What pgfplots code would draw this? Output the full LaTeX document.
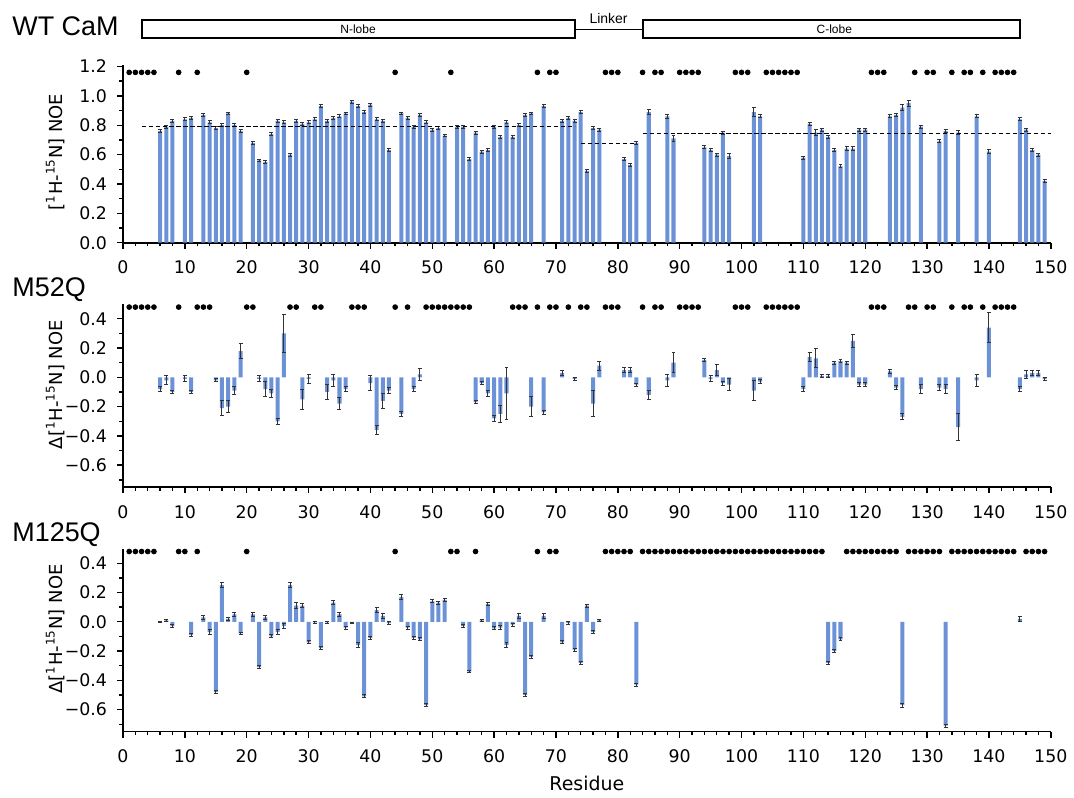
\documentclass[border=0pt]{standalone}
\usepackage{fontspec}
\setmainfont{DejaVu Sans}
\newfontfamily\arial{Liberation Sans}
\usepackage{pgfplots}
\usepackage{pgfplotstable}
\pgfplotsset{compat=1.18}
\definecolor{barblue}{RGB}{107,146,214}

% residue, value, error
\pgfplotstableread{
x y e
6 0.76 0.01
7 0.79 0.01
8 0.83 0.01
10 0.84 0.01
11 0.85 0.01
13 0.87 0.01
14 0.82 0.01
15 0.78 0.01
16 0.80 0.01
17 0.88 0.01
18 0.80 0.01
19 0.76 0.01
21 0.68 0.01
22 0.56 0.01
23 0.55 0.01
24 0.74 0.01
25 0.83 0.01
26 0.82 0.01
27 0.60 0.01
28 0.83 0.01
29 0.81 0.01
30 0.82 0.01
31 0.84 0.01
32 0.93 0.01
33 0.83 0.01
34 0.85 0.01
35 0.86 0.01
36 0.88 0.01
37 0.96 0.01
38 0.93 0.01
39 0.89 0.01
40 0.94 0.01
41 0.84 0.01
42 0.83 0.01
43 0.63 0.01
45 0.88 0.01
46 0.85 0.01
47 0.79 0.01
48 0.87 0.01
49 0.82 0.01
50 0.77 0.01
51 0.78 0.01
52 0.73 0.01
54 0.79 0.01
55 0.79 0.01
56 0.57 0.01
57 0.75 0.01
58 0.62 0.01
59 0.63 0.01
60 0.79 0.01
61 0.72 0.01
62 0.82 0.01
63 0.72 0.01
64 0.80 0.01
65 0.87 0.01
66 0.88 0.01
68 0.93 0.01
71 0.83 0.01
72 0.85 0.01
73 0.83 0.01
74 0.89 0.01
75 0.49 0.01
76 0.78 0.01
77 0.77 0.01
81 0.57 0.01
82 0.53 0.01
83 0.68 0.01
85 0.89 0.02
88 0.86 0.015
89 0.71 0.02
94 0.65 0.01
95 0.63 0.01
96 0.60 0.01
97 0.75 0.01
98 0.59 0.015
102 0.89 0.03
103 0.86 0.01
110 0.58 0.01
111 0.81 0.01
112 0.75 0.02
113 0.77 0.01
114 0.72 0.01
115 0.63 0.01
116 0.52 0.01
117 0.64 0.015
118 0.64 0.015
119 0.77 0.01
120 0.77 0.01
124 0.86 0.01
125 0.87 0.01
126 0.92 0.02
127 0.95 0.02
129 0.79 0.01
132 0.69 0.01
133 0.76 0.01
135 0.75 0.015
138 0.86 0.01
140 0.62 0.015
145 0.84 0.01
146 0.77 0.01
147 0.63 0.01
148 0.60 0.01
149 0.42 0.01
}\wtdata

\pgfplotstableread{
x y e
6 -0.08 0.02
7 -0.02 0.03
8 -0.10 0.01
10 -0.01 0.02
11 -0.10 0.01
15 -0.02 0.01
16 -0.21 0.05
17 -0.20 0.04
18 -0.09 0.03
19 0.18 0.05
22 -0.01 0.02
23 -0.08 0.05
24 -0.11 0.03
25 -0.30 0.02
26 0.30 0.13
29 -0.15 0.07
30 -0.01 0.03
33 -0.10 0.05
34 -0.02 0.04
35 -0.18 0.04
36 -0.08 0.015
40 -0.04 0.05
41 -0.36 0.03
42 -0.16 0.05
43 -0.09 0.02
45 -0.25 0.02
47 -0.08 0.015
48 0.02 0.04
57 -0.17 0.01
58 -0.04 0.01
59 -0.11 0.02
60 -0.28 0.02
61 -0.25 0.06
62 -0.11 0.18
66 -0.20 0.07
68 -0.24 0.015
71 0.03 0.02
73 -0.01 0.01
76 -0.18 0.09
77 0.08 0.03
81 0.05 0.015
82 0.05 0.015
83 -0.05 0.01
85 -0.12 0.03
88 -0.02 0.04
89 0.10 0.07
94 0.12 0.01
95 -0.01 0.02
96 0.05 0.035
97 -0.04 0.015
98 -0.05 0.04
102 -0.09 0.07
103 -0.03 0.015
110 -0.08 0.015
111 0.14 0.03
112 0.13 0.065
113 0.01 0.01
114 0.01 0.01
115 0.10 0.01
116 0.11 0.01
117 0.10 0.01
118 0.25 0.045
119 -0.05 0.015
120 -0.05 0.015
124 0.04 0.015
125 -0.07 0.015
126 -0.27 0.02
129 -0.08 0.03
132 -0.07 0.02
133 -0.08 0.03
135 -0.34 0.09
138 -0.02 0.04
140 0.34 0.10
145 -0.08 0.015
146 0.02 0.03
147 0.03 0.015
148 0.03 0.015
149 -0.01 0.01
}\mftwo

\pgfplotstableread{
x y e
6 0.00 0.005
7 0.01 0.005
8 -0.03 0.01
11 -0.09 0.01
13 0.03 0.015
14 -0.07 0.015
15 -0.48 0.01
16 0.25 0.015
17 0.02 0.01
18 0.05 0.015
19 -0.08 0.01
21 0.05 0.015
22 -0.31 0.01
23 0.03 0.015
24 -0.10 0.01
25 -0.07 0.015
26 -0.03 0.015
27 0.25 0.015
28 0.11 0.02
29 0.11 0.015
30 -0.14 0.01
31 -0.005 0.005
32 -0.18 0.01
33 -0.005 0.005
34 0.13 0.015
35 0.05 0.015
36 -0.04 0.01
37 -0.01 0.005
38 -0.16 0.015
39 -0.51 0.01
40 -0.11 0.01
41 0.08 0.015
42 0.04 0.015
43 -0.01 0.01
45 0.17 0.015
46 -0.04 0.01
47 -0.11 0.01
48 -0.12 0.01
49 -0.57 0.01
50 0.14 0.01
51 0.13 0.01
52 0.15 0.01
55 -0.03 0.01
56 -0.34 0.01
58 0.01 0.005
59 0.12 0.01
60 -0.045 0.01
61 -0.04 0.015
62 -0.16 0.015
63 -0.02 0.01
64 0.04 0.015
65 -0.50 0.01
66 -0.24 0.01
68 0.04 0.015
71 -0.14 0.01
72 -0.01 0.01
73 -0.19 0.01
74 -0.28 0.01
75 0.11 0.01
76 -0.07 0.01
77 0.01 0.005
83 -0.43 0.01
114 -0.28 0.01
115 -0.20 0.01
116 -0.12 0.01
126 -0.57 0.015
133 -0.71 0.01
145 0.02 0.015
}\monetwofive

% unassigned / missing residues (dots along the top)
\pgfplotstableread{
x y
1 1.16
2 1.16
3 1.16
4 1.16
5 1.16
9 1.16
12 1.16
20 1.16
44 1.16
53 1.16
67 1.16
69 1.16
70 1.16
78 1.16
79 1.16
80 1.16
84 1.16
86 1.16
87 1.16
90 1.16
91 1.16
92 1.16
93 1.16
99 1.16
100 1.16
101 1.16
104 1.16
105 1.16
106 1.16
107 1.16
108 1.16
109 1.16
121 1.16
122 1.16
123 1.16
128 1.16
130 1.16
131 1.16
134 1.16
136 1.16
137 1.16
139 1.16
141 1.16
142 1.16
143 1.16
144 1.16
}\wtdots

\pgfplotstableread{
x y
1 0.48
2 0.48
3 0.48
4 0.48
5 0.48
9 0.48
12 0.48
13 0.48
14 0.48
20 0.48
21 0.48
27 0.48
28 0.48
31 0.48
32 0.48
37 0.48
38 0.48
39 0.48
44 0.48
46 0.48
49 0.48
50 0.48
51 0.48
52 0.48
53 0.48
54 0.48
55 0.48
56 0.48
63 0.48
64 0.48
65 0.48
67 0.48
69 0.48
70 0.48
72 0.48
74 0.48
75 0.48
78 0.48
79 0.48
80 0.48
84 0.48
86 0.48
87 0.48
90 0.48
91 0.48
92 0.48
93 0.48
99 0.48
100 0.48
101 0.48
104 0.48
105 0.48
106 0.48
107 0.48
108 0.48
109 0.48
121 0.48
122 0.48
123 0.48
127 0.48
128 0.48
130 0.48
131 0.48
134 0.48
136 0.48
137 0.48
139 0.48
141 0.48
142 0.48
143 0.48
144 0.48
}\mftwodots

\pgfplotstableread{
x y
1 0.48
2 0.48
3 0.48
4 0.48
5 0.48
9 0.48
10 0.48
12 0.48
20 0.48
44 0.48
53 0.48
54 0.48
57 0.48
67 0.48
69 0.48
70 0.48
78 0.48
79 0.48
80 0.48
81 0.48
82 0.48
84 0.48
85 0.48
86 0.48
87 0.48
88 0.48
89 0.48
90 0.48
91 0.48
92 0.48
93 0.48
94 0.48
95 0.48
96 0.48
97 0.48
98 0.48
99 0.48
100 0.48
101 0.48
102 0.48
103 0.48
104 0.48
105 0.48
106 0.48
107 0.48
108 0.48
109 0.48
110 0.48
111 0.48
112 0.48
113 0.48
117 0.48
118 0.48
119 0.48
120 0.48
121 0.48
122 0.48
123 0.48
124 0.48
125 0.48
127 0.48
128 0.48
129 0.48
130 0.48
131 0.48
132 0.48
134 0.48
135 0.48
136 0.48
137 0.48
138 0.48
139 0.48
140 0.48
141 0.48
142 0.48
143 0.48
144 0.48
146 0.48
147 0.48
148 0.48
149 0.48
}\monetwofivedots

\pgfplotsset{
  noeaxis/.style={
    scale only axis, width=465pt, xmin=0, xmax=150,
    anchor=south west,
    axis x line*=bottom, axis y line*=left,
    tick align=outside,
    xtick={0,10,...,150}, minor x tick num=4,
    major tick length=3pt, minor tick length=1.8pt,
    tick style={black, line width=0.7pt},
    axis line style={line width=0.8pt},
    tick label style={font=\fontsize{8.7}{10}\selectfont},
    xticklabel style={yshift=-2.5pt},
    yticklabel style={xshift=-1.5pt},
    /pgf/number format/assume math mode=true,
    ylabel style={font=\fontsize{9}{10}\selectfont, anchor=center},
  },
  dpanel/.style={
    height=91.7pt, ymin=-0.75, ymax=0.5,
    ytick={-0.6,-0.4,-0.2,0,0.2,0.4},
    yticklabels={−0.6,−0.4,−0.2,0.0,0.2,0.4},
    minor ytick={-0.7,-0.5,-0.3,-0.1,0.1,0.3},
    ylabel={Δ[\textsuperscript{1}H-\textsuperscript{15}N] NOE},
    ylabel style={at={(axis description cs:-0.073,0.56)}},
  },
  bars/.style={ybar, bar width=0.65, fill=barblue, draw=none,
    error bars/y dir=both, error bars/y explicit,
    error bars/error bar style={line width=0.5pt, black!80},
    error bars/error mark options={rotate=90, mark size=1pt, line width=0.5pt, black!80}},
  dots/.style={only marks, mark=*, mark size=1.2pt, black},
  avg/.style={black, line width=0.65pt, dash pattern=on 2.2pt off 1.3pt},
}

\begin{document}
\begin{tikzpicture}
\path (0,0) rectangle (537pt,398pt);

% WT CaM
\begin{axis}[noeaxis, at={(61.65pt,276.35pt)}, height=89.05pt,
  ymin=0, ymax=1.21, clip=false,
  ytick={0,0.2,0.4,0.6,0.8,1.0,1.2},
  yticklabels={0.0,0.2,0.4,0.6,0.8,1.0,1.2},
  minor ytick={0.1,0.3,0.5,0.7,0.9,1.1},
  ylabel={[\textsuperscript{1}H-\textsuperscript{15}N] NOE},
  ylabel style={at={(axis description cs:-0.073,0.51)}},
]
\addplot[bars] table[x=x, y=y, y error=e] {\wtdata};
\addplot[dots] table[x=x, y=y] {\wtdots};
\addplot[avg] coordinates {(3,0.79) (73,0.79)};
\addplot[avg] coordinates {(74,0.675) (83,0.675)};
\addplot[avg] coordinates {(84,0.745) (150,0.745)};
% domain bar
\draw[line width=1pt] (axis cs:3,1.391) rectangle (axis cs:73,1.520);
\draw[line width=0.7pt] (axis cs:73,1.454) -- (axis cs:84,1.454);
\draw[line width=1pt] (axis cs:84,1.391) rectangle (axis cs:145,1.520);
\node[font=\arial\fontsize{6}{7}\selectfont] at (axis cs:38,1.455) {N-lobe};
\node[font=\arial\fontsize{6}{7}\selectfont] at (axis cs:115,1.455) {C-lobe};
\node[font=\arial\fontsize{7}{8}\selectfont] at (axis cs:78.5,1.53) {Linker};
\end{axis}

% M52Q
\begin{axis}[noeaxis, dpanel, at={(61.65pt,153.85pt)}]
\addplot[bars] table[x=x, y=y, y error=e] {\mftwo};
\addplot[dots] table[x=x, y=y] {\mftwodots};
\end{axis}

% M125Q
\begin{axis}[noeaxis, dpanel, at={(61.65pt,31.35pt)},
  xlabel={Residue},
  xlabel style={font=\fontsize{9.5}{11}\selectfont, at={(axis description cs:0.5,0)}, anchor=base, yshift=-29.5pt},
]
\addplot[bars] table[x=x, y=y, y error=e] {\monetwofive};
\addplot[dots] table[x=x, y=y] {\monetwofivedots};
\end{axis}

\node[font=\arial\fontsize{13.5}{15}\selectfont, anchor=base west, inner sep=0] at (6pt,380pt) {WT CaM};
\node[font=\arial\fontsize{13.5}{15}\selectfont, anchor=base west, inner sep=0] at (6pt,249.5pt) {M52Q};
\node[font=\arial\fontsize{13.5}{15}\selectfont, anchor=base west, inner sep=0] at (6pt,126.5pt) {M125Q};
\end{tikzpicture}
\end{document}
